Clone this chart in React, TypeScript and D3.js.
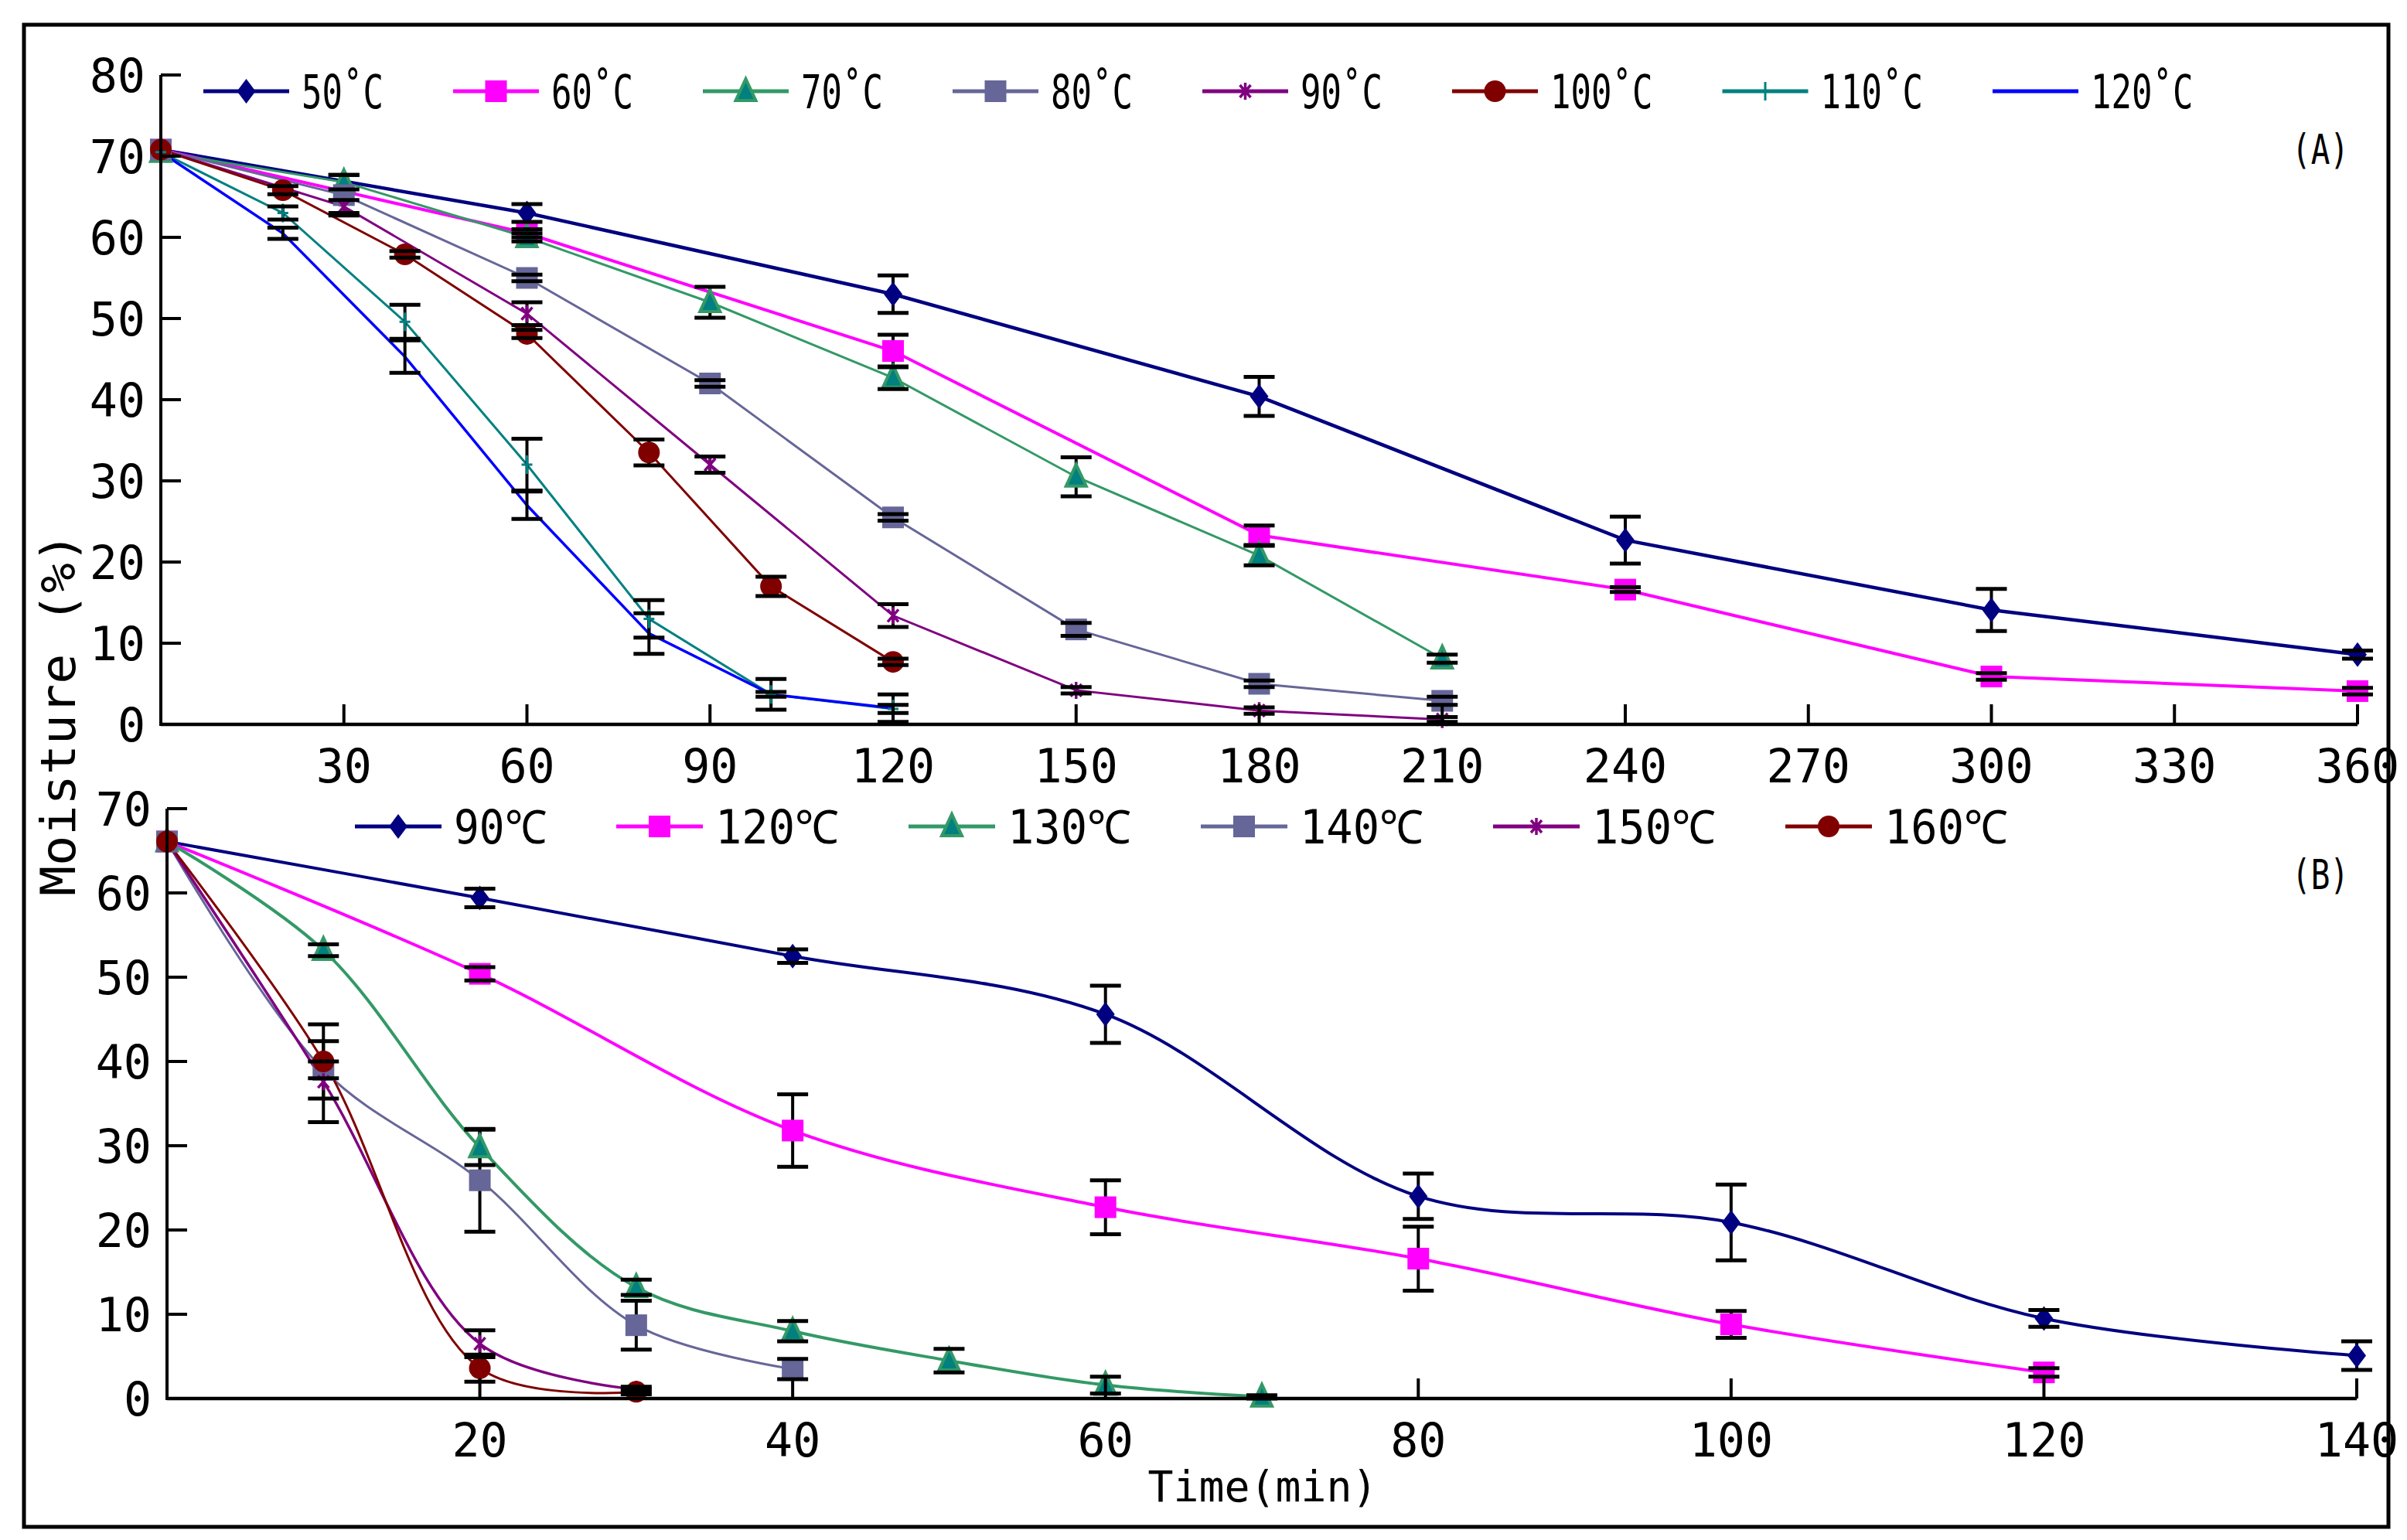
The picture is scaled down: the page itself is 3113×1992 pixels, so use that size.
import React from "react";
import * as d3 from "d3";

// ---- panel A: drying at 50-120 °C (time in min, moisture in %) ----
const timeA60 = [0, 60, 120, 180, 240, 300, 360];
const timeA30 = [0, 30, 60, 90, 120, 150, 180, 210];
const timeA20 = [0, 20, 40, 60, 80, 100, 120];

const moist50 = [70.8, 63.0, 53.0, 40.4, 22.7, 14.1, 8.6];
const err50 = [0, 1.1, 2.3, 2.4, 2.9, 2.6, 0.5];
const moist60 = [70.8, 60.5, 46.0, 23.3, 16.6, 5.9, 4.1];
const err60 = [0, 0.5, 2.0, 1.2, 0.3, 0.4, 0.4];
const moist70 = [70.5, 66.8, 60.0, 52.0, 42.7, 30.5, 20.8, 8.1];
const err70 = [0, 0.9, 0.5, 1.9, 1.4, 2.4, 1.2, 0.5];
const moist80 = [70.8, 65.2, 55.0, 42.0, 25.5, 11.7, 5.0, 2.9];
const err80 = [0, 2.5, 0.4, 0.4, 0.4, 0.8, 0.4, 0.5];
const moist90 = [70.8, 63.8, 50.6, 32.0, 13.4, 4.2, 1.7, 0.6];
const err90 = [0, 0.8, 1.4, 1.0, 1.4, 0.4, 0.4, 0.3];
const moist100 = [70.8, 65.8, 57.9, 48.1, 33.5, 17.0, 7.7];
const err100 = [0, 0.5, 0.4, 0.5, 1.6, 1.2, 0.4];
const moist110 = [70.5, 63.0, 49.6, 32.0, 13.0, 3.7, 1.9];
const err110 = [0, 0.8, 2.1, 3.2, 2.3, 1.9, 0.5];
const moist120 = [70.5, 60.5, 45.3, 27.0, 11.2, 3.7, 2.0];
const err120 = [0, 0.7, 2.0, 1.7, 2.5, 0.3, 1.7];

const ticksAx = [30, 60, 90, 120, 150, 180, 210, 240, 270, 300, 330, 360];
const ticksAy = [0, 10, 20, 30, 40, 50, 60, 70, 80];

// ---- panel B: drying at 90-160 °C ----
const timeB90 = [0, 20, 40, 60, 80, 100, 120, 140];
const timeB120 = [0, 20, 40, 60, 80, 100, 120];
const timeB130 = [0, 10, 20, 30, 40, 50, 60, 70];
const timeB140 = [0, 10, 20, 30, 40];
const timeB150 = [0, 10, 20, 30];
const timeB160 = [0, 10, 20, 30];

const moistB90 = [66.1, 59.4, 52.5, 45.6, 24.0, 20.9, 9.5, 5.1];
const errB90 = [0, 1.1, 0.8, 3.4, 2.7, 4.5, 1.0, 1.7];
const moistB120 = [66.1, 50.4, 31.8, 22.7, 16.6, 8.8, 3.1];
const errB120 = [0, 0.8, 4.3, 3.2, 3.8, 1.6, 0.5];
const moistB130 = [66.1, 53.2, 29.8, 13.2, 8.0, 4.5, 1.6, 0.2];
const errB130 = [0, 0.7, 2.1, 0.9, 1.2, 1.4, 1.0, 0.2];
const moistB140 = [66.1, 39.0, 25.9, 8.7, 3.5];
const errB140 = [0, 1.0, 6.1, 2.9, 1.2];
const moistB150 = [66.1, 37.6, 6.5, 1.1];
const errB150 = [0, 4.8, 1.6, 0.3];
const moistB160 = [66.1, 40.0, 3.6, 0.8];
const errB160 = [0, 4.4, 1.6, 0.3];

const ticksBx = [20, 40, 60, 80, 100, 120, 140];
const ticksBy = [0, 10, 20, 30, 40, 50, 60, 70];

type Marker = "diamond" | "square" | "triangle" | "star" | "circle" | "plus" | "none";

interface Series {
  label: string;
  t: number[];
  m: number[];
  e: number[];
  color: string;
  fill: string;
  marker: Marker;
  width: number;
}

const NAVY = "#000080";
const MAGENTA = "#ff00ff";
const SEAGREEN = "#339966";
const TEAL = "#008080";
const SLATE = "#666699";
const PURPLE = "#800080";
const MAROON = "#800000";
const BLUE = "#0000ff";

const seriesA: Series[] = [
  { label: "50˚C", t: timeA60, m: moist50, e: err50, color: NAVY, fill: NAVY, marker: "diamond", width: 4.5 },
  { label: "60˚C", t: timeA60, m: moist60, e: err60, color: MAGENTA, fill: MAGENTA, marker: "square", width: 4 },
  { label: "70˚C", t: timeA30, m: moist70, e: err70, color: SEAGREEN, fill: TEAL, marker: "triangle", width: 3 },
  { label: "80˚C", t: timeA30, m: moist80, e: err80, color: SLATE, fill: SLATE, marker: "square", width: 3 },
  { label: "90˚C", t: timeA30, m: moist90, e: err90, color: PURPLE, fill: PURPLE, marker: "star", width: 3 },
  { label: "100˚C", t: timeA20, m: moist100, e: err100, color: MAROON, fill: MAROON, marker: "circle", width: 3 },
  { label: "110˚C", t: timeA20, m: moist110, e: err110, color: TEAL, fill: TEAL, marker: "plus", width: 3 },
  { label: "120˚C", t: timeA20, m: moist120, e: err120, color: BLUE, fill: BLUE, marker: "none", width: 3.5 },
];

const seriesB: Series[] = [
  { label: "90℃", t: timeB90, m: moistB90, e: errB90, color: NAVY, fill: NAVY, marker: "diamond", width: 4 },
  { label: "120℃", t: timeB120, m: moistB120, e: errB120, color: MAGENTA, fill: MAGENTA, marker: "square", width: 4 },
  { label: "130℃", t: timeB130, m: moistB130, e: errB130, color: SEAGREEN, fill: TEAL, marker: "triangle", width: 4 },
  { label: "140℃", t: timeB140, m: moistB140, e: errB140, color: SLATE, fill: SLATE, marker: "square", width: 3 },
  { label: "150℃", t: timeB150, m: moistB150, e: errB150, color: PURPLE, fill: PURPLE, marker: "star", width: 3.5 },
  { label: "160℃", t: timeB160, m: moistB160, e: errB160, color: MAROON, fill: MAROON, marker: "circle", width: 3 },
];

const FONT = "'DejaVu Sans Mono', 'Liberation Mono', monospace";

const xA = d3.scaleLinear().domain([0, 360]).range([208, 3049]);
const yA = d3.scaleLinear().domain([0, 80]).range([937, 97]);
const xB = d3.scaleLinear().domain([0, 140]).range([216, 3048]);
const yB = d3.scaleLinear().domain([0, 70]).range([1809, 1046]);

function MarkerShape({ kind, x, y, color, fill }: { kind: Marker; x: number; y: number; color: string; fill: string }) {
  switch (kind) {
    case "diamond":
      return <path d={`M${x},${y - 16}L${x + 12},${y}L${x},${y + 16}L${x - 12},${y}Z`} fill={color} />;
    case "square":
      return <rect x={x - 14} y={y - 14} width={28} height={28} fill={color} />;
    case "triangle":
      return (
        <path
          d={`M${x},${y - 16}L${x + 13},${y + 12}L${x - 13},${y + 12}Z`}
          fill={fill}
          stroke={color}
          strokeWidth={4}
        />
      );
    case "star":
      return (
        <path
          d={`M${x - 7},${y - 8}L${x + 7},${y + 8}M${x + 7},${y - 8}L${x - 7},${y + 8}M${x},${y - 11}V${y + 11}`}
          stroke={color}
          strokeWidth={3.5}
          fill="none"
        />
      );
    case "circle":
      return <circle cx={x} cy={y} r={14} fill={color} />;
    case "plus":
      return <path d={`M${x},${y - 12}V${y + 12}M${x - 7},${y}H${x + 7}`} stroke={color} strokeWidth={3} fill="none" />;
    default:
      return null;
  }
}

interface PanelProps {
  series: Series[];
  x: d3.ScaleLinear<number, number>;
  y: d3.ScaleLinear<number, number>;
  xTicks: number[];
  yTicks: number[];
  curve: d3.CurveFactory;
  legendY: number;
  legendX: number;
  legendLine: number;
  charW: number;
  legendGap: number;
  tag: string;
  tagY: number;
}

function Panel({ series, x, y, xTicks, yTicks, curve, legendY, legendX, legendLine, charW, legendGap, tag, tagY }: PanelProps) {
  const [x0, x1] = x.range();
  const [yBot, yTop] = y.range();
  const tickLen = 26;

  const lineGen = d3
    .line<[number, number]>()
    .x((d) => x(d[0]))
    .y((d) => y(d[1]))
    .curve(curve);

  // legend item positions
  let cursor = legendX;
  const legendItems = series.map((s) => {
    const textW = [...s.label].length * charW;
    const item = { s, x: cursor, textW };
    cursor += legendLine + 16 + textW + legendGap;
    return item;
  });

  return (
    <g>
      {/* series lines */}
      {series.map((s) => (
        <path
          key={`l-${s.label}`}
          d={lineGen(s.t.map((t, i) => [t, s.m[i]] as [number, number])) || ""}
          fill="none"
          stroke={s.color}
          strokeWidth={s.width}
        />
      ))}

      {/* error bar stems */}
      {series.map((s) =>
        s.t.map((t, i) =>
          s.e[i] > 0 ? (
            <line
              key={`es-${s.label}-${i}`}
              x1={x(t)}
              x2={x(t)}
              y1={y(s.m[i] + s.e[i])}
              y2={y(s.m[i] - s.e[i])}
              stroke="#000"
              strokeWidth={4}
            />
          ) : null,
        ),
      )}

      {/* markers */}
      {series.map((s) =>
        s.t.map((t, i) => (
          <MarkerShape key={`m-${s.label}-${i}`} kind={s.marker} x={x(t)} y={y(s.m[i])} color={s.color} fill={s.fill} />
        )),
      )}

      {/* error bar caps */}
      {series.map((s) =>
        s.t.map((t, i) =>
          s.e[i] > 0 ? (
            <path
              key={`ec-${s.label}-${i}`}
              d={`M${x(t) - 20},${y(s.m[i] + s.e[i])}H${x(t) + 20}M${x(t) - 20},${y(s.m[i] - s.e[i])}H${x(t) + 20}`}
              stroke="#000"
              strokeWidth={5}
            />
          ) : null,
        ),
      )}

      {/* axes */}
      <line x1={x0} x2={x0} y1={yTop} y2={yBot + 2} stroke="#000" strokeWidth={4} />
      <line x1={x0} x2={x1} y1={yBot} y2={yBot} stroke="#000" strokeWidth={4.5} />
      {yTicks.map((v) => (
        <g key={`yt-${v}`}>
          <line x1={x0} x2={x0 + tickLen} y1={y(v)} y2={y(v)} stroke="#000" strokeWidth={4} />
          <text x={x0 - 20} y={y(v) + 22} textAnchor="end" fontFamily={FONT} fontSize={60} fill="#000">
            {v}
          </text>
        </g>
      ))}
      {xTicks.map((t) => (
        <g key={`xt-${t}`}>
          <line x1={x(t)} x2={x(t)} y1={yBot} y2={yBot - tickLen} stroke="#000" strokeWidth={4} />
          <text x={x(t)} y={yBot + 75} textAnchor="middle" fontFamily={FONT} fontSize={60} fill="#000">
            {t}
          </text>
        </g>
      ))}

      {/* legend */}
      {legendItems.map(({ s, x: lx, textW }) => (
        <g key={`lg-${s.label}`}>
          <line x1={lx} x2={lx + legendLine} y1={legendY} y2={legendY} stroke={s.color} strokeWidth={5} />
          <MarkerShape kind={s.marker} x={lx + legendLine / 2} y={legendY} color={s.color} fill={s.fill} />
          <text
            x={lx + legendLine + 16}
            y={legendY + 22}
            fontFamily={FONT}
            fontSize={60}
            textLength={textW}
            lengthAdjust="spacingAndGlyphs"
            fill="#000"
          >
            {s.label}
          </text>
        </g>
      ))}

      <text x={3001} y={tagY} textAnchor="middle" fontFamily={FONT} fontSize={54} textLength={74} lengthAdjust="spacingAndGlyphs">
        {tag}
      </text>
    </g>
  );
}

export default function App() {
  return (
    <svg
      width={3113}
      height={1992}
      viewBox="0 0 3113 1992"
      style={{ position: "absolute", left: 0, top: 0, background: "#fff" }}
    >
      <rect x={0} y={0} width={3113} height={1992} fill="#fff" />
      <rect x={31} y={32} width={3058} height={1943} fill="none" stroke="#000" strokeWidth={5} />

      <Panel
        series={seriesA}
        x={xA}
        y={yA}
        xTicks={ticksAx}
        yTicks={ticksAy}
        curve={d3.curveLinear}
        legendY={118}
        legendX={263}
        legendLine={111}
        charW={26.5}
        legendGap={90}
        tag="(A)"
        tagY={212}
      />
      <Panel
        series={seriesB}
        x={xB}
        y={yB}
        xTicks={ticksBx}
        yTicks={ticksBy}
        curve={d3.curveCatmullRom.alpha(0.5)}
        legendY={1069}
        legendX={459}
        legendLine={112}
        charW={40}
        legendGap={90}
        tag="(B)"
        tagY={1150}
      />

      <text
        transform="translate(97,924) rotate(-90)"
        textAnchor="middle"
        fontFamily={FONT}
        fontSize={62}
        textLength={470}
        lengthAdjust="spacingAndGlyphs"
      >
        Moisture (%)
      </text>
      <text
        x={1633}
        y={1942}
        textAnchor="middle"
        fontFamily={FONT}
        fontSize={56}
        textLength={297}
        lengthAdjust="spacingAndGlyphs"
      >
        Time(min)
      </text>
    </svg>
  );
}
